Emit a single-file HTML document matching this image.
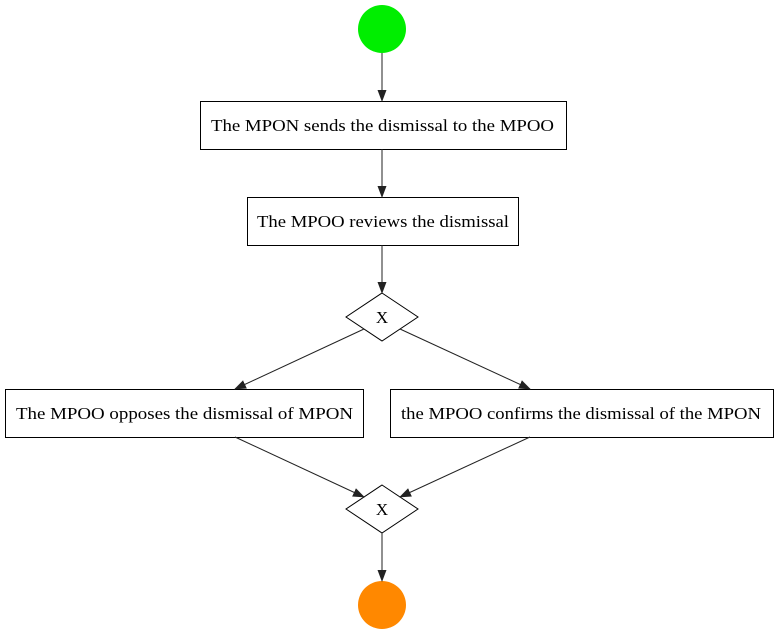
<!DOCTYPE html>
<html><head><meta charset="utf-8"><style>html,body{margin:0;padding:0;background:#fff}</style></head>
<body>
<svg width="778" height="635" viewBox="0 0 778 635" xmlns="http://www.w3.org/2000/svg" font-family="'Liberation Serif', serif" font-size="17">
<defs><marker id="a" markerWidth="12" markerHeight="12" refX="11" refY="6" orient="auto" markerUnits="userSpaceOnUse"><path d="M0,1.5 L12,6 L0,10.5 Z" fill="#222"/></marker></defs>
<circle cx="382" cy="29" r="24" fill="#00ee00"/>
<circle cx="382" cy="605" r="24" fill="#ff8800"/>
<g fill="#fff" stroke="#000" stroke-width="1">
<rect x="200.5" y="101.5" width="366" height="48"/>
<rect x="247.5" y="197.5" width="271" height="48"/>
<rect x="5.5" y="389.5" width="358" height="48"/>
<rect x="390.5" y="389.5" width="383" height="48"/>
<polygon points="382,293 418,317 382,341 346,317"/>
<polygon points="382,485 418,509 382,533 346,509"/>
</g>
<g stroke="#222" stroke-width="1" fill="none" marker-end="url(#a)">
<line x1="382" y1="53" x2="382" y2="101"/>
<line x1="382" y1="149" x2="382" y2="197"/>
<line x1="382" y1="245" x2="382" y2="293"/>
<line x1="364" y1="329" x2="235" y2="389"/>
<line x1="400" y1="329" x2="530" y2="389"/>
<line x1="235" y1="437" x2="364" y2="497"/>
<line x1="530" y1="437" x2="400" y2="497"/>
<line x1="382" y1="533" x2="382" y2="581"/>
</g>
<g fill="#000">
<text x="211" y="131" textLength="343" lengthAdjust="spacingAndGlyphs">The MPON sends the dismissal to the MPOO</text>
<text x="257" y="227" textLength="252" lengthAdjust="spacingAndGlyphs">The MPOO reviews the dismissal</text>
<text x="16" y="419" textLength="337" lengthAdjust="spacingAndGlyphs">The MPOO opposes the dismissal of MPON</text>
<text x="401" y="419" textLength="360" lengthAdjust="spacingAndGlyphs">the MPOO confirms the dismissal of the MPON</text>
<text x="382" y="323" text-anchor="middle">X</text>
<text x="382" y="515" text-anchor="middle">X</text>
</g>
</svg>
</body></html>
